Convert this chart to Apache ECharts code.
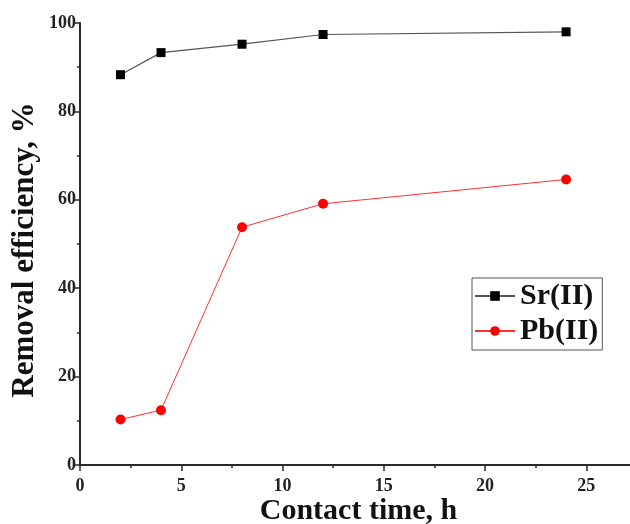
<!DOCTYPE html>
<html>
<head>
<meta charset="utf-8">
<script src="https://cdn.jsdelivr.net/npm/echarts@6/dist/echarts.min.js"></script>
<style>
  html, body { margin: 0; padding: 0; background: #fff; }
  #root { width: 630px; height: 524px; }
</style>
</head>
<body>
<div id="root"></div>
<script>
  // contact time (h)
  const times = [2, 4, 8, 12, 24];
  // removal efficiency (%)
  const srValues = [88.3, 93.3, 95.2, 97.4, 98.0];
  const pbValues = [10.3, 12.4, 53.8, 59.1, 64.6];

  const serif = '"Liberation Serif", "Times New Roman", serif';
  const axisColor = '#2a2a2a';

  const pairs = (xs, ys) => xs.map((x, i) => [x, ys[i]]);

  const myChart = echarts.init(document.getElementById('root'));

  const option = {
    animation: false,
    backgroundColor: '#fff',
    grid: { left: 80, top: 23, right: -7, bottom: 59, outerBoundsMode: 'none', containLabel: false },
    legend: {
      left: 472,
      top: 278,
      orient: 'vertical',
      itemWidth: 40,
      itemHeight: 12,
      itemGap: 5,
      padding: [3, 4, 4, 2],
      borderColor: '#555',
      borderWidth: 1,
      textStyle: { fontFamily: serif, fontWeight: 'bold', fontSize: 30, color: '#111' },
      data: ['Sr(II)', 'Pb(II)']
    },
    xAxis: {
      type: 'value',
      min: 0,
      max: 27.5,
      interval: 5,
      name: 'Contact time, h',
      nameLocation: 'middle',
      nameGap: 31,
      nameMoveOverlap: false,
      nameTextStyle: { fontFamily: serif, fontWeight: 'bold', fontSize: 30, color: '#111' },
      axisLine: { show: true, lineStyle: { color: axisColor, width: 2 } },
      axisTick: { show: true, length: 6, lineStyle: { color: axisColor, width: 1.5 } },
      minorTick: { show: true, splitNumber: 2, length: 3, lineStyle: { color: axisColor, width: 1.5 } },
      axisLabel: { fontFamily: serif, fontWeight: 'bold', fontSize: 18, color: '#222', margin: 12, showMaxLabel: false },
      splitLine: { show: false }
    },
    yAxis: {
      type: 'value',
      min: 0,
      max: 100,
      interval: 20,
      name: 'Removal efficiency, %',
      nameLocation: 'middle',
      nameGap: 40,
      nameMoveOverlap: false,
      nameTextStyle: { fontFamily: serif, fontWeight: 'bold', fontSize: 31, color: '#111', padding: [0, 12, 0, 0] },
      axisLine: { show: true, lineStyle: { color: axisColor, width: 2 } },
      axisTick: { show: true, length: 6, lineStyle: { color: axisColor, width: 1.5 } },
      minorTick: { show: true, splitNumber: 2, length: 3, lineStyle: { color: axisColor, width: 1.5 } },
      axisLabel: { fontFamily: serif, fontWeight: 'bold', fontSize: 18, color: '#222', margin: 4 },
      splitLine: { show: false }
    },
    series: [
      {
        name: 'Sr(II)',
        type: 'line',
        data: pairs(times, srValues),
        symbol: 'rect',
        symbolSize: 9,
        itemStyle: { color: '#000' },
        lineStyle: { color: '#555', width: 1.2 }
      },
      {
        name: 'Pb(II)',
        type: 'line',
        data: pairs(times, pbValues),
        symbol: 'circle',
        symbolSize: 10,
        itemStyle: { color: '#ff0000' },
        lineStyle: { color: '#ff3030', width: 1 }
      }
    ]
  };

  myChart.setOption(option);
</script>
</body>
</html>
